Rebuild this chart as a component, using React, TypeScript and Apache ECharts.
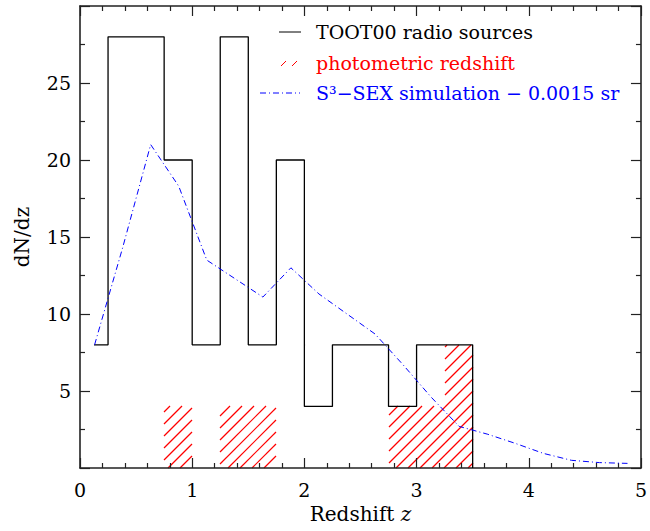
import { useEffect, useRef } from 'react';
import * as echarts from 'echarts';

// TOOT00 histogram (dN/dz), bin edges and values
const histEdges = [0.125, 0.25, 0.75, 1.0, 1.25, 1.5, 1.75, 2.0, 2.25, 2.75, 3.0, 3.5];
const histValues = [8, 28, 20, 8, 28, 8, 20, 4, 8, 4, 8];

// photometric redshift histogram (hatched)
const photoStart = [0.75, 1.25, 2.75, 3.25];
const photoEnd = [1.0, 1.75, 3.25, 3.5];
const photoValues = [4, 4, 4, 8];

// S3-SEX simulation curve
const simZ = [0.13, 0.38, 0.63, 0.88, 1.13, 1.38, 1.63, 1.88, 2.13, 2.38, 2.63, 2.88, 3.13, 3.38, 3.63, 3.88, 4.13, 4.38, 4.63, 4.88];
const simN = [8.0, 14.3, 21.0, 18.3, 13.5, 12.3, 11.1, 13.0, 11.3, 10.0, 8.7, 6.7, 4.6, 2.7, 2.2, 1.6, 0.95, 0.5, 0.35, 0.3];

const yTickLabels = [5, 10, 15, 20, 25];
const xTickLabels = [0, 1, 2, 3, 4, 5];

const legendTexts = ['TOOT00 radio sources', 'photometric redshift', 'S³−SEX simulation − 0.0015 sr'];

const FONT = '"DejaVu Serif", "Liberation Serif", serif';
const AXIS_COLOR = '#222';
const RED = 'rgb(255,0,0)';

function histPoints(): [number, number][] {
  const pts: [number, number][] = [];
  for (let i = 0; i < histValues.length; i++) {
    pts.push([histEdges[i], histValues[i]]);
    pts.push([histEdges[i + 1], histValues[i]]);
  }
  pts.push([histEdges[histEdges.length - 1], 0]);
  return pts;
}

export default function App() {
  const ref = useRef<HTMLDivElement>(null);
  useEffect(() => {
    if (!ref.current) return;
    const chart = echarts.init(ref.current, undefined, { renderer: 'svg' });
    const tickStyle = { color: AXIS_COLOR, width: 1.2 };
    const baseX = {
      type: 'value' as const,
      min: 0,
      max: 5,
      interval: 1,
      axisLine: { show: true, onZero: false, lineStyle: { color: AXIS_COLOR, width: 1.6 } },
      axisTick: { show: true, inside: true, length: 10, lineStyle: tickStyle },
      minorTick: { show: true, splitNumber: 5, length: 5, lineStyle: tickStyle },
      splitLine: { show: false },
      minorSplitLine: { show: false },
    };
    const baseY = {
      type: 'value' as const,
      min: 0,
      max: 30,
      interval: 5,
      axisLine: { show: true, onZero: false, lineStyle: { color: AXIS_COLOR, width: 1.6 } },
      axisTick: { show: true, inside: true, length: 10, lineStyle: tickStyle },
      minorTick: { show: true, splitNumber: 2, length: 5, lineStyle: tickStyle },
      splitLine: { show: false },
      minorSplitLine: { show: false },
    };
    const option: any = {
      animation: false,
      grid: { left: 80, top: 6, width: 563, height: 462, containLabel: false },
      xAxis: [
        {
          ...baseX,
          position: 'bottom',
          name: '{a|Redshift }{b|z}',
          nameLocation: 'middle',
          nameGap: 36,
          nameTextStyle: {
            rich: {
              a: { fontFamily: FONT, fontSize: 20, color: '#000' },
              b: { fontFamily: FONT, fontSize: 20, color: '#000', fontStyle: 'italic' },
            },
          },
          axisLabel: {
            show: true,
            margin: 12,
            fontFamily: FONT,
            fontSize: 19,
            color: '#000',
            showMinLabel: true,
            showMaxLabel: true,
            formatter: (v: number) => (xTickLabels.includes(v) ? String(v) : ''),
          },
        },
        { ...baseX, position: 'top', axisLabel: { show: false } },
      ],
      yAxis: [
        {
          ...baseY,
          position: 'left',
          name: 'dN/dz',
          nameLocation: 'middle',
          nameGap: 48,
          nameTextStyle: { fontFamily: FONT, fontSize: 20, color: '#000' },
          axisLabel: {
            show: true,
            margin: 9,
            fontFamily: FONT,
            fontSize: 19,
            color: '#000',
            formatter: (v: number) => (yTickLabels.includes(v) ? String(v) : ''),
          },
        },
        { ...baseY, position: 'right', axisLabel: { show: false } },
      ],
      series: [
        {
          type: 'line',
          name: legendTexts[0],
          xAxisIndex: 0,
          yAxisIndex: 0,
          data: histPoints(),
          showSymbol: false,
          symbol: 'none',
          z: 3,
          lineStyle: { color: '#000', width: 1.3 },
        },
        {
          type: 'line',
          name: legendTexts[2],
          xAxisIndex: 0,
          yAxisIndex: 0,
          data: simZ.map((z, i) => [z, simN[i]]),
          showSymbol: false,
          symbol: 'none',
          z: 4,
          lineStyle: { color: '#0000ff', width: 1, type: [6, 3, 1, 3] },
        },
      ],
    };
    chart.setOption(option);

    // hatch lines for the photometric-redshift histogram: each rectangle's corners
    // come from the chart's own axes (convertToPixel)
    const spacing = 12;
    const finder = { gridIndex: 0 };
    const hatch: any[] = [];
    const r = (v: number) => Math.round(v * 2) / 2;
    photoStart.forEach((s, i) => {
      const tl = chart.convertToPixel(finder, [s, photoValues[i]]) as number[];
      const br = chart.convertToPixel(finder, [photoEnd[i], 0]) as number[];
      const x0 = Math.round(tl[0]), yTop = Math.round(tl[1]), x1 = Math.round(br[0]), yBot = Math.round(br[1]);
      const cStart = Math.ceil((x0 + yTop) / spacing) * spacing;
      for (let c = cStart; c <= x1 + yBot; c += spacing) {
        const xa = Math.max(x0, c - yBot);
        const xb = Math.min(x1, c - yTop);
        if (xb - xa > 0.5) {
          hatch.push({
            type: 'polyline',
            shape: { points: [[r(xa), r(c - xa)], [r(xb), r(c - xb)]] },
            style: { stroke: RED, fill: 'none', lineWidth: 1.2 },
          });
        }
      }
    });

    const legend: any[] = [
      { type: 'line', shape: { x1: 279, y1: 32, x2: 301, y2: 32 }, style: { stroke: '#000', lineWidth: 1 } },
      { type: 'text', x: 316, y: 32, style: { text: legendTexts[0], font: `19px ${FONT}`, fill: '#000', verticalAlign: 'middle' } },
      { type: 'line', shape: { x1: 281, y1: 66, x2: 286, y2: 61 }, style: { stroke: RED, lineWidth: 1 } },
      { type: 'line', shape: { x1: 292, y1: 66, x2: 297, y2: 61 }, style: { stroke: RED, lineWidth: 1 } },
      { type: 'text', x: 316, y: 63, style: { text: legendTexts[1], font: `19px ${FONT}`, fill: RED, verticalAlign: 'middle' } },
      { type: 'line', shape: { x1: 260, y1: 93, x2: 300, y2: 93 }, style: { stroke: '#0000ff', lineWidth: 1, lineDash: [6, 3, 1, 3] } },
      { type: 'text', x: 316, y: 93, style: { text: legendTexts[2], font: `19px ${FONT}`, fill: '#0000ff', verticalAlign: 'middle' } },
    ];
    chart.setOption({ graphic: [...legend, ...hatch] });
    return () => chart.dispose();
  }, []);
  return <div ref={ref} style={{ width: 650, height: 531, position: 'absolute', left: 0, top: 0 }} />;
}
